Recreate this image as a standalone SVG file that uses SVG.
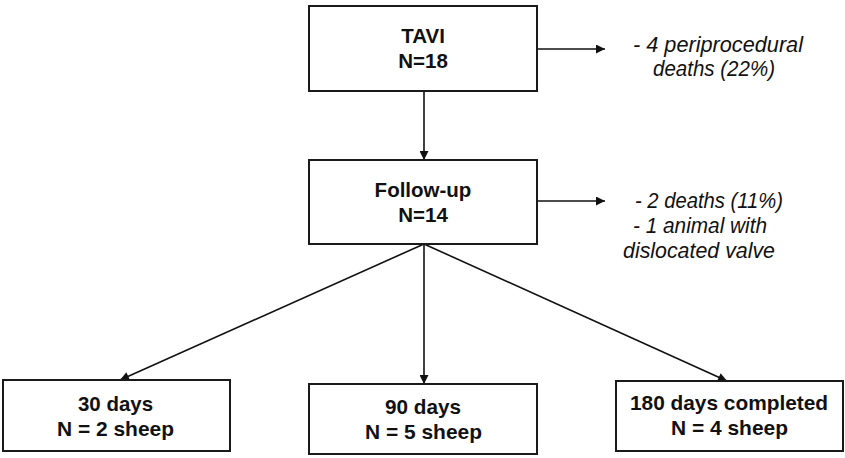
<svg xmlns="http://www.w3.org/2000/svg" width="845" height="458" viewBox="0 0 845 458">
<style>
.box{fill:#fff;stroke:#1a1a1a;stroke-width:2}
.t{font-family:"Liberation Sans",Arial,sans-serif;font-weight:bold;font-size:20.5px;fill:#111;text-anchor:middle}
.b{font-family:"Liberation Sans",Arial,sans-serif;font-weight:bold;font-size:21px;fill:#111}
.i{font-family:"Liberation Sans",Arial,sans-serif;font-style:italic;font-size:21.5px;fill:#111}
.c{stroke:#111;stroke-width:1.6;fill:none;marker-end:url(#ah)}
</style>
<defs>
<marker id="ah" viewBox="0 0 10 10" refX="10" refY="5" markerWidth="10" markerHeight="9" markerUnits="userSpaceOnUse" orient="auto">
<path d="M0,0 L10,5 L0,10 Z" fill="#111"/>
</marker>
</defs>
<rect width="845" height="458" fill="#fff"/>
<g id="connectors">
<line class="c" x1="424" y1="91" x2="424" y2="160"/>
<line class="c" x1="537" y1="49" x2="605" y2="49"/>
<line class="c" x1="537" y1="201" x2="605" y2="201"/>
<line class="c" x1="424" y1="244" x2="120" y2="380"/>
<line class="c" x1="424" y1="244" x2="424" y2="384"/>
<line class="c" x1="424" y1="244" x2="727" y2="381"/>
</g>
<g id="tavi">
<rect class="box" x="309" y="6" width="228" height="85"/>
<text class="t" x="423" y="43">TAVI</text>
<text class="t" x="423" y="68">N=18</text>
</g>
<g id="deaths1">
<text class="i" x="633" y="52" textLength="170" lengthAdjust="spacingAndGlyphs">- 4 periprocedural</text>
<text class="i" x="653" y="76" textLength="122" lengthAdjust="spacingAndGlyphs">deaths (22%)</text>
</g>
<g id="followup">
<rect class="box" x="309" y="160" width="228" height="84"/>
<text class="t" x="423" y="197">Follow-up</text>
<text class="t" x="423" y="222">N=14</text>
</g>
<g id="deaths2">
<text class="i" x="635" y="208" textLength="148" lengthAdjust="spacingAndGlyphs">- 2 deaths (11%)</text>
<text class="i" x="633" y="233" textLength="134" lengthAdjust="spacingAndGlyphs">- 1 animal with</text>
<text class="i" x="623" y="258" textLength="152" lengthAdjust="spacingAndGlyphs">dislocated valve</text>
</g>
<g id="d30">
<rect class="box" x="3" y="380" width="227" height="71"/>
<text class="b" x="78" y="411" textLength="75" lengthAdjust="spacingAndGlyphs">30 days</text>
<text class="b" x="57" y="436" textLength="117" lengthAdjust="spacingAndGlyphs">N = 2 sheep</text>
</g>
<g id="d90">
<rect class="box" x="309" y="384" width="228" height="70"/>
<text class="b" x="385" y="414" textLength="76" lengthAdjust="spacingAndGlyphs">90 days</text>
<text class="b" x="365" y="439" textLength="117" lengthAdjust="spacingAndGlyphs">N = 5 sheep</text>
</g>
<g id="d180">
<rect class="box" x="616" y="381" width="227" height="70"/>
<text class="b" x="630" y="410" textLength="198" lengthAdjust="spacingAndGlyphs">180 days completed</text>
<text class="b" x="671" y="435" textLength="117" lengthAdjust="spacingAndGlyphs">N = 4 sheep</text>
</g>
</svg>
